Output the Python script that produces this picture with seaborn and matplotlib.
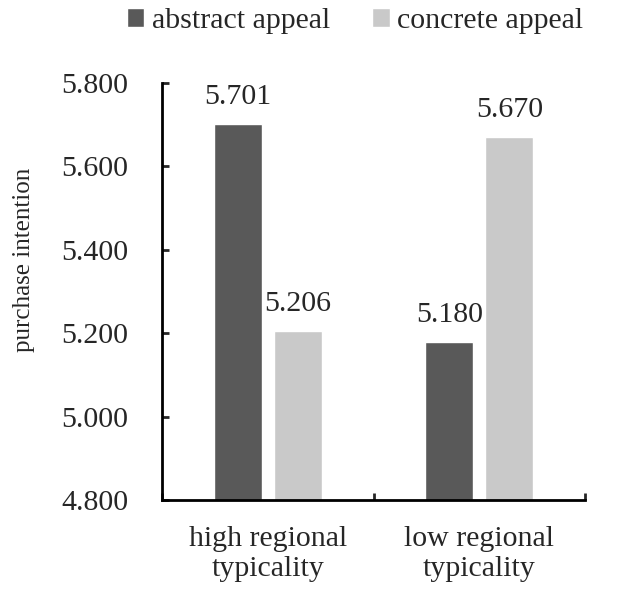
import pandas as pd
import matplotlib
matplotlib.use('Agg')
import matplotlib.pyplot as plt
import seaborn as sns
from matplotlib.ticker import FormatStrFormatter, FixedLocator

# Values
conditions = ['high regional\ntypicality', 'low regional\ntypicality']
appeals = ['abstract appeal', 'concrete appeal']
abstract_values = [5.701, 5.180]
concrete_values = [5.206, 5.670]
y_ticks = [4.8, 5.0, 5.2, 5.4, 5.6, 5.8]

df = pd.DataFrame({
    'condition': conditions * 2,
    'appeal': [appeals[0]] * 2 + [appeals[1]] * 2,
    'value': abstract_values + concrete_values,
})

sns.set_style('white')
plt.rcParams['font.family'] = ['Liberation Serif', 'DejaVu Serif']
fs = 21.5

fig = plt.figure(figsize=(6.24, 5.91), dpi=100)
ax = fig.add_axes([162 / 624, 1 - 500 / 591, 423 / 624, 417 / 591])

sns.barplot(
    data=df, x='condition', y='value', hue='appeal',
    palette=['#595959', '#c9c9c9'], width=0.568, gap=0.2,
    errorbar=None, ax=ax, legend=True,
)

for container in ax.containers:
    ax.bar_label(container, fmt='%.3f', padding=10, fontsize=fs)

ax.set_ylim(4.8, 5.8)
ax.set_xlim(-0.5, 1.5)
ax.yaxis.set_major_locator(FixedLocator(y_ticks))
ax.yaxis.set_major_formatter(FormatStrFormatter('%.3f'))
ax.set_xlabel('')
ax.set_ylabel('purchase intention', fontsize=18)
ax.yaxis.set_label_coords(-0.300, 0.576)

# inward ticks, x ticks only at category boundaries
ax.tick_params(axis='y', left=True, direction='in', length=5, width=2, labelsize=fs, pad=24)
ax.tick_params(axis='x', which='major', bottom=True, length=0, labelsize=fs, pad=19)
ax.xaxis.set_minor_locator(FixedLocator([-0.5, 0.5, 1.5]))
ax.tick_params(axis='x', which='minor', bottom=True, direction='in', length=5, width=2)

for side in ['top', 'right']:
    ax.spines[side].set_visible(False)
for side in ['left', 'bottom']:
    ax.spines[side].set_linewidth(2)
    ax.spines[side].set_color('black')

handles, labels = ax.get_legend_handles_labels()
ax.legend_.remove()
fig.legend(handles, labels, loc='upper center', bbox_to_anchor=(355 / 624, 1.032),
           ncol=2, frameon=False, fontsize=fs, handlelength=0.6, handleheight=0.6,
           handletextpad=0.25, columnspacing=1.4)

fig.savefig('out.png', dpi=100)
